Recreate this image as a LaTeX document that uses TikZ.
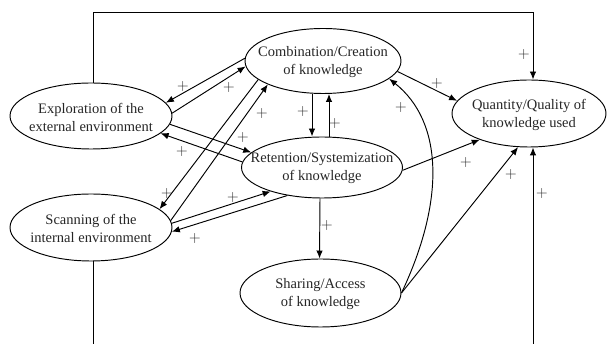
\documentclass[tikz,border=0pt]{standalone}
\usepackage{fontspec}
\newfontfamily\tnr{Liberation Serif}
\usetikzlibrary{shapes.geometric,arrows.meta,calc}
\begin{document}
\begin{tikzpicture}[x=1pt,y=-1pt,
  ell/.style={draw,ellipse,line width=0.95pt,inner sep=0pt},
  lbl/.style={font=\tnr\fontsize{14.5}{18}\selectfont,align=center,text=black!85,yshift=-1pt},
  arr/.style={line width=0.95pt,-{Latex[length=8pt,width=6.5pt]}},
  ln/.style={line width=0.95pt},
  pl/.style={font=\fontsize{16}{16}\selectfont,inner sep=0pt,text=black!85}]
\useasboundingbox (0,0) rectangle (608,344);
% ellipses
\node[ell,minimum width=162pt,minimum height=66pt,label={[lbl]center:{Exploration of the\\external environment}}] (E) at (91,116) {};
\node[ell,minimum width=156pt,minimum height=65pt,label={[lbl]center:{Combination/Creation\\of knowledge}}] (C) at (323,61) {};
\node[ell,minimum width=154pt,minimum height=67pt,label={[lbl]center:{Quantity/Quality of\\knowledge used}}] (Q) at (529,113.5) {};
\node[ell,minimum width=161pt,minimum height=61pt,label={[lbl]center:{Retention/Systemization\\of knowledge}}] (R) at (322,167.5) {};
\node[ell,minimum width=162pt,minimum height=67pt,label={[lbl]center:{Scanning of the\\internal environment}}] (S) at (91,227.5) {};
\node[ell,minimum width=161pt,minimum height=68pt,label={[lbl]center:{Sharing/Access\\of knowledge}}] (Sh) at (320.5,293) {};
% connectors
\draw[arr] (C.178) -- (E.10);
\draw[arr] (E.2) -- (C.-176);
\draw[arr] (E.-6) -- (R.168);
\draw[arr] (R.176) -- (E.-14);
\draw[arr] (C.-164) -- (S.15);
\draw[arr] (S.5) -- (C.-157);
\draw[arr] (S.3) -- (R.-155);
\draw[arr] (R.-141) -- (S.-3);
\draw[arr] ([xshift=-11pt]C.south) -- ([xshift=-10pt]R.north);
\draw[arr] ([xshift=7pt]R.north) -- ([xshift=6pt]C.south);
\draw[arr] (C.-8) -- (Q.170);
\draw[arr] (R.-2) -- (Q.-152);
\draw[arr] (Sh.east) .. controls +(44,-93) and +(54,43) .. (C.-15);
\draw[arr] (Sh.east) -- (Q.-108);
\draw[arr] ([xshift=-2pt]R.south) -- ([xshift=-1pt]Sh.north);
% feedback loop
\coordinate (tl) at (93,12);
\coordinate (tr) at (533,12);
\coordinate (bl) at (93,344);
\coordinate (br) at (533,344);
\draw[arr] ([xshift=2pt]E.north) -- (tl) -- (tr) -- ([xshift=4pt]Q.north);
\draw[ln] ([xshift=2pt]S.south) -- (bl);
\draw[arr] (br) -- ([xshift=4pt]Q.south);
% plus signs
\node[pl] (p1) at (183,87) {+};
\node[pl] (p2) at (229,88) {+};
\node[pl] (p3) at (243,138) {+};
\node[pl] (p4) at (182,152) {+};
\node[pl] (p5) at (167,194) {+};
\node[pl] (p6) at (262,114) {+};
\node[pl] (p7) at (233,198) {+};
\node[pl] (p8) at (195,239) {+};
\node[pl] (p9) at (303,112) {+};
\node[pl] (p10) at (335,124) {+};
\node[pl] (p11) at (437,84) {+};
\node[pl] (p12) at (466,163) {+};
\node[pl] (p13) at (401,108) {+};
\node[pl] (p14) at (511,175) {+};
\node[pl] (p15) at (327,226) {+};
\node[pl] (p16) at (524,55) {+};
\node[pl] (p17) at (542,194) {+};
\end{tikzpicture}
\end{document}
